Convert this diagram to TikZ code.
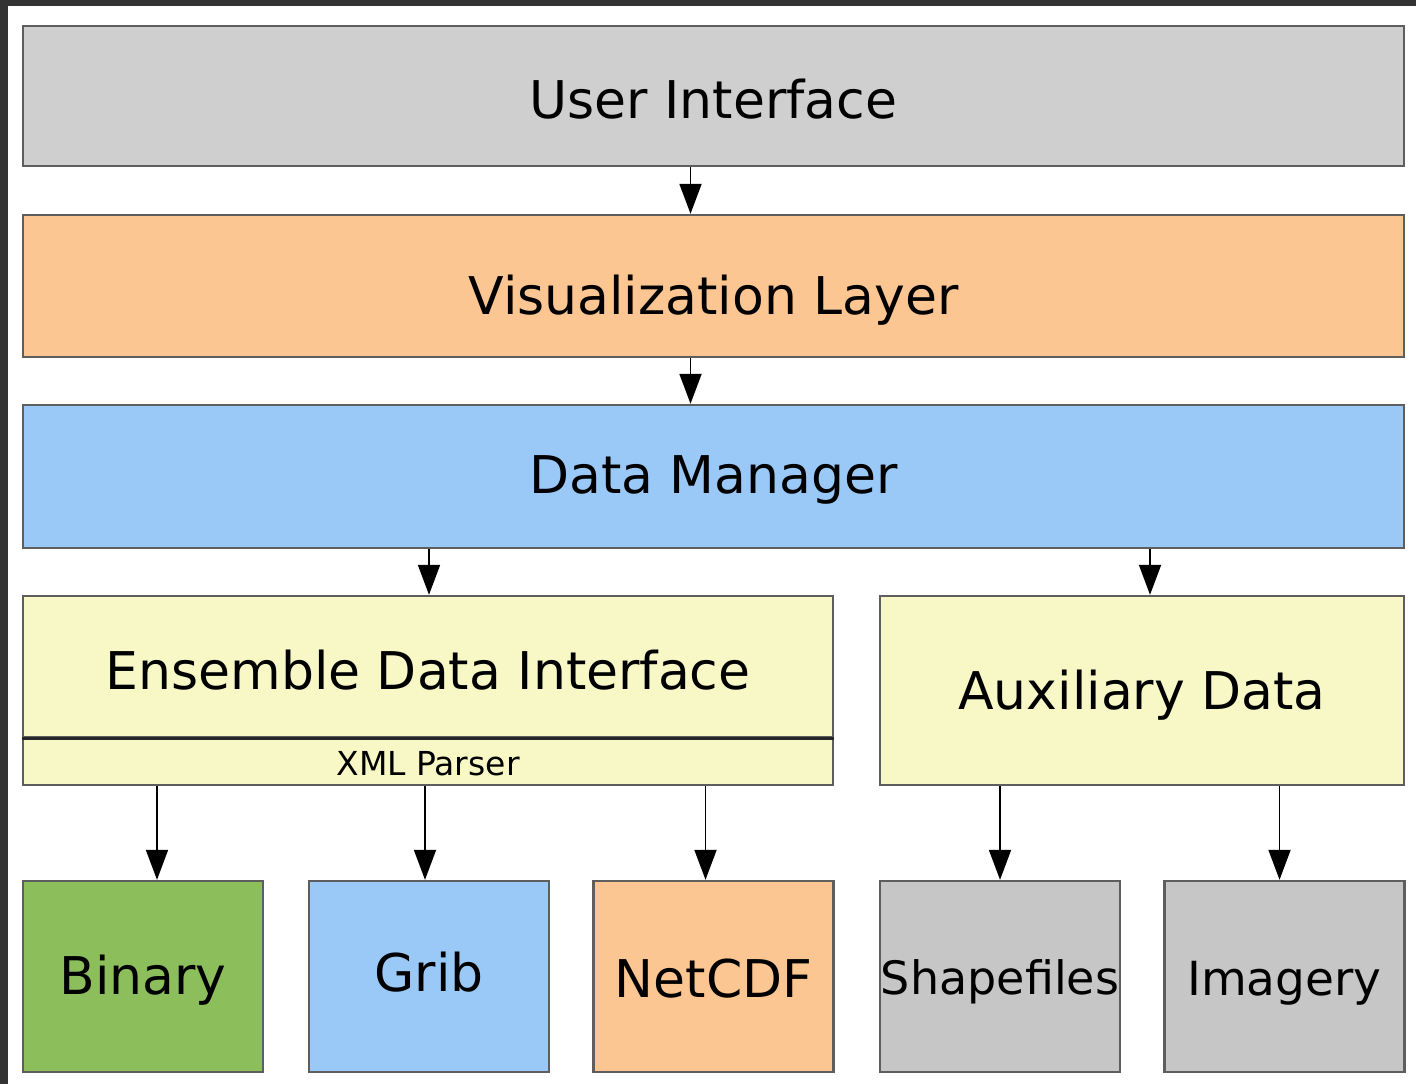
\documentclass[tikz,border=0pt]{standalone}
\usepackage{fontspec}
\setmainfont{DejaVu Sans}
\usetikzlibrary{arrows.meta,calc}

\definecolor{framegray}{HTML}{333333}
\definecolor{edgegray}{HTML}{5E5E5E}
\definecolor{uigray}{HTML}{CFCFCF}
\definecolor{leafgray}{HTML}{C6C6C6}
\definecolor{vizorange}{HTML}{FBC692}
\definecolor{dmblue}{HTML}{9BC9F7}
\definecolor{ifyellow}{HTML}{F8F8C6}
\definecolor{bingreen}{HTML}{8DBE5C}

\begin{document}
\begin{tikzpicture}[
		x=0.5pt, y=-0.5pt,
		every node/.style={text=black},
		layer/.style={draw=edgegray,line width=1.2pt,inner sep=0pt,text depth=0pt,text height=19pt,font=\fontsize{26}{29}\selectfont},
		leaf/.style={layer,minimum width=120pt,minimum height=95.5pt},
		arr/.style={line width=0.9pt,-{Triangle[length=15pt,width=11pt]}}
	]

		% Frame
		\fill[framegray] (0,0) rectangle (1416,1084);
		\fill[white] (8,6) rectangle (1416,1084);
		\useasboundingbox (0,0) rectangle (1416,1084);

		% Layers
		\node[layer, fill=uigray, minimum width=690.5pt, minimum height=70pt, text height=22pt] (ui) at (713.5, 96) {User Interface};
		\node[layer, fill=vizorange, minimum width=690.5pt, minimum height=71pt, text height=28.6pt] (vl) at (713.5, 286) {Visualization Layer};
		\node[layer, fill=dmblue, minimum width=690.5pt, minimum height=71.5pt, text height=16.5pt] (dm) at (713.5, 476.5) {Data Manager};

		% Interfaces
		\node[layer, fill=ifyellow, minimum width=405pt, minimum height=70.5pt, text height=22.5pt] (edi) at (428, 666.5) {Ensemble Data Interface};
		\node[layer, fill=ifyellow, minimum width=405pt, minimum height=24pt, text height=14pt, font=\fontsize{16.5}{18}\selectfont] (xml) at (428, 761) {XML Parser};
		\draw[line width=1.5pt, black!85] (edi.south west) -- (edi.south east);
		\node[layer, fill=ifyellow, minimum width=262pt, minimum height=94.5pt, text height=18.5pt] (aux) at (1142, 690.5) {Auxiliary Data};

		% Formats
		\node[leaf, fill=bingreen, text height=17.5pt] (bin) at (143, 976.5) {Binary};
		\node[leaf, fill=dmblue, text height=14.5pt] (grib) at (429, 976.5) {Grib};
		\node[leaf, fill=vizorange, text height=20.5pt] (ncdf) at (713.5, 976.5) {NetCDF};
		\node[leaf, fill=leafgray, text height=17.5pt, font=\fontsize{23}{26}\selectfont] (shp) at (1000, 976.5) {Shapefiles};
		\node[leaf, fill=leafgray, text height=18.5pt, font=\fontsize{23.5}{26}\selectfont] (img) at (1284.5, 976.5) {Imagery};

		% Arrows
		\draw[arr] ($(ui.south)+(-23,0)$) -- ($(vl.north)+(-23,0)$);
		\draw[arr] ($(vl.south)+(-23,0)$) -- ($(dm.north)+(-23,0)$);
		\draw[arr] ($(edi.north |- dm.south)+(1,0)$) -- ($(edi.north)+(1,0)$);
		\draw[arr] ($(aux.north |- dm.south)+(8,0)$) -- ($(aux.north)+(8,0)$);
		\draw[arr] ($(bin.north |- xml.south)+(14,0)$) -- ($(bin.north)+(14,0)$);
		\draw[arr] ($(grib.north |- xml.south)+(-4,0)$) -- ($(grib.north)+(-4,0)$);
		\draw[arr] ($(ncdf.north |- xml.south)+(-8,0)$) -- ($(ncdf.north)+(-8,0)$);
		\draw[arr] (shp.north |- aux.south) -- (shp.north);
		\draw[arr] ($(img.north |- aux.south)+(-5,0)$) -- ($(img.north)+(-5,0)$);
	\end{tikzpicture}
\end{document}
